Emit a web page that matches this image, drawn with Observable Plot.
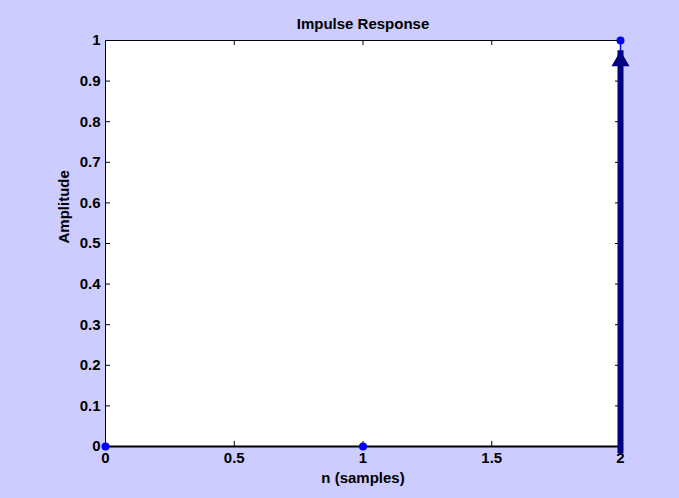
<!DOCTYPE html>
<html>
<head>
<meta charset="utf-8">
<script src="https://cdn.jsdelivr.net/npm/d3@7"></script>
<script src="https://cdn.jsdelivr.net/npm/@observablehq/plot@0.6"></script>
<style>
  html, body { margin: 0; padding: 0; background: #ccccff; }
  #chart svg { display: block; }
</style>
</head>
<body>
<div id="chart"></div>
<script>
// Data
const n = [0, 1, 2];
const h = [0, 0, 1];
const xTicks = [0, 0.5, 1, 1.5, 2];
const xTickLabels = ["0", "0.5", "1", "1.5", "2"];
const yTicks = [0, 0.1, 0.2, 0.3, 0.4, 0.5, 0.6, 0.7, 0.8, 0.9, 1];
const yTickLabels = ["0", "0.1", "0.2", "0.3", "0.4", "0.5", "0.6", "0.7", "0.8", "0.9", "1"];
const arrowX = [2];
const arrowStart = [0.012];
const arrowEnd = [0.975];
const titleText = "Impulse Response";
const xLabel = "n (samples)";
const yLabel = "Amplitude";

const stems = n.map((v, i) => ({n: v, h: h[i]}));
const arrow = arrowX.map((v, i) => ({x: v, y1: arrowStart[i], y2: arrowEnd[i]}));

const W = 679, H = 498;
const mL = 105, mR = 59, mT = 40, mB = 52;
const innerW = W - mL - mR;
const innerH = H - mT - mB;
const tick = 5;
const font = "'Liberation Sans', Arial, Helvetica, sans-serif";

const chart = Plot.plot({
  width: W,
  height: H,
  marginLeft: mL,
  marginRight: mR,
  marginTop: mT,
  marginBottom: mB,
  style: {background: "#ccccff", fontFamily: font, fontSize: "15px", fontWeight: "bold", color: "black", overflow: "visible"},
  x: {domain: [0, 2]},
  y: {domain: [0, 1]},
  marks: [
    Plot.frame({fill: "white", stroke: null}),
    // inward tick marks on all four sides
    Plot.tickY(yTicks, {y: d => d, stroke: "black", insetRight: innerW - tick}),
    Plot.tickY(yTicks, {y: d => d, stroke: "black", insetLeft: innerW - tick}),
    Plot.tickX(xTicks, {x: d => d, stroke: "black", insetTop: innerH - tick}),
    Plot.tickX(xTicks, {x: d => d, stroke: "black", insetBottom: innerH - tick}),
    Plot.frame({stroke: "black", strokeWidth: 1}),
    Plot.ruleY([0], {stroke: "black", strokeWidth: 2}),
    Plot.axisX({ticks: xTicks, tickSize: 0, tickPadding: 6, tickFormat: (d, i) => xTickLabels[xTicks.indexOf(d)], label: null, fontSize: 15, fontWeight: "bold"}),
    Plot.axisY({ticks: yTicks, tickSize: 0, tickPadding: 5, tickFormat: (d) => yTickLabels[yTicks.findIndex(t => Math.abs(t - d) < 1e-9)], label: null, fontSize: 15, fontWeight: "bold"}),
    // stems
    Plot.ruleX(stems, {x: "n", y1: 0, y2: "h", stroke: "#0000ff", strokeWidth: 1.5}),
    // navy arrow (shaft + head)
    Plot.ruleX(arrow, {x: "x", y1: "y1", y2: "y2", stroke: "#000080", strokeWidth: 6, insetTop: 12}),
    Plot.dot(arrow, {x: "x", y: "y2", symbol: "triangle", r: 6.7, fill: "#000080", stroke: null, dy: 10.4}),
    // markers
    Plot.dot(stems, {x: "n", y: "h", r: 4, fill: "#0000ff", stroke: null}),
    // title and labels
    Plot.text([titleText], {frameAnchor: "top", lineAnchor: "bottom", dy: -12, fontSize: 15, fontWeight: "bold", fill: "black", text: d => d, style: "letter-spacing:0.5px"}),
    Plot.text([xLabel], {frameAnchor: "bottom", lineAnchor: "bottom", dy: 36, fontSize: 15, fontWeight: "bold", fill: "black", text: d => d}),
    Plot.text([yLabel], {frameAnchor: "left", lineAnchor: "bottom", rotate: -90, dx: -37, fontSize: 15, fontWeight: "bold", fill: "black", text: d => d})
  ]
});
document.getElementById("chart").appendChild(chart);
</script>
</body>
</html>
